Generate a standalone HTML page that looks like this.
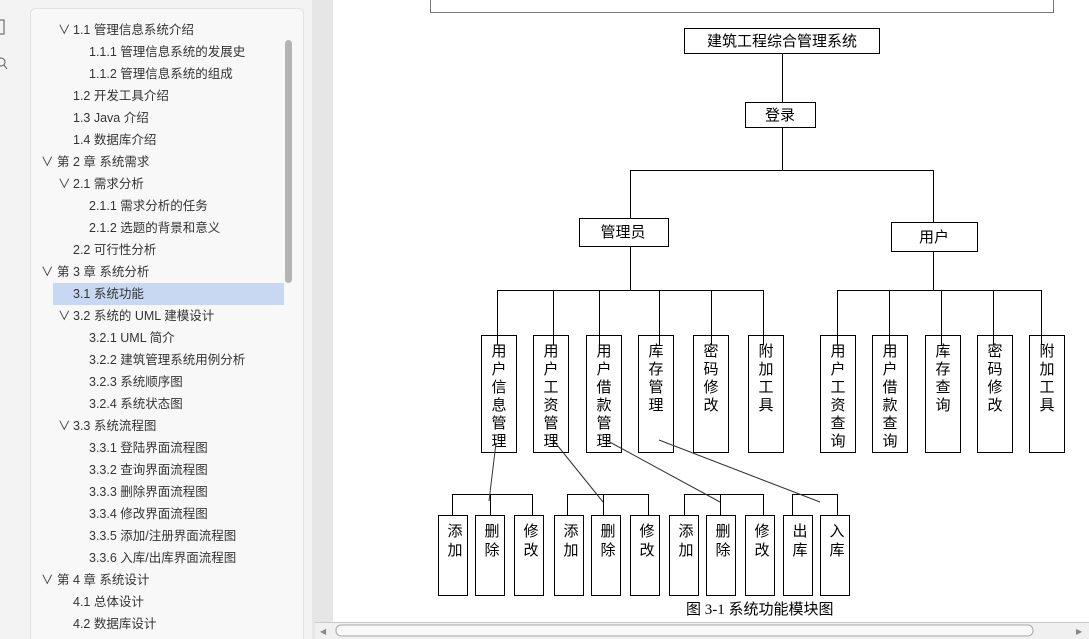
<!DOCTYPE html>
<html><head><meta charset="utf-8"><style>
html,body{margin:0;padding:0;width:1089px;height:639px;overflow:hidden;background:#eeeeee}
svg{display:block}
.s{font-family:"Liberation Sans","Noto Sans CJK SC",sans-serif;font-size:12.5px;fill:#333}
.d{font-family:"Liberation Serif","Noto Sans CJK SC",serif;font-size:15px;fill:#000}
.b{font-family:"Liberation Serif","Noto Sans CJK SC",serif;font-size:15px;fill:#000}
</style></head><body>
<svg width="1089" height="639" viewBox="0 0 1089 639" xmlns="http://www.w3.org/2000/svg">
<rect x="0" y="0" width="1089" height="639" fill="#eeeeee"/>
<rect x="0" y="0" width="22" height="639" fill="#f3f3f3"/>
<rect x="-2" y="20" width="6" height="14" fill="none" stroke="#555" stroke-width="1"/>
<circle cx="1" cy="62" r="4" fill="none" stroke="#555"/><line x1="4" y1="65" x2="7" y2="69" stroke="#555"/>
<rect x="22" y="0" width="290" height="639" fill="#f3f3f3"/>
<rect x="30.5" y="8.5" width="273" height="640" rx="5" fill="#f8f8f8" stroke="#e2e2e2"/>
<rect x="285" y="40" width="7" height="243" rx="3.5" fill="#b4b4b4"/>
<rect x="53" y="283" width="231" height="22" fill="#c9d8f2"/>
<rect x="312" y="0" width="22" height="639" fill="#e6e6e6"/>
<rect x="333" y="0" width="756" height="622" fill="#fff"/>
<g class="s">
<text x="58" y="34">∨</text><text x="73" y="34">1.1  管理信息系统介绍</text>
<text x="89" y="56">1.1.1  管理信息系统的发展史</text>
<text x="89" y="78">1.1.2  管理信息系统的组成</text>
<text x="73" y="100">1.2 开发工具介绍</text>
<text x="73" y="122">1.3 Java 介绍</text>
<text x="73" y="144">1.4  数据库介绍</text>
<text x="41" y="166">∨</text><text x="57" y="166">第 2 章   系统需求</text>
<text x="58" y="188">∨</text><text x="73" y="188">2.1  需求分析</text>
<text x="89" y="210">2.1.1  需求分析的任务</text>
<text x="89" y="232">2.1.2  选题的背景和意义</text>
<text x="73" y="254">2.2 可行性分析</text>
<text x="41" y="276">∨</text><text x="57" y="276">第 3 章   系统分析</text>
<text x="73" y="298">3.1 系统功能</text>
<text x="58" y="320">∨</text><text x="73" y="320">3.2 系统的 UML 建模设计</text>
<text x="89" y="342">3.2.1 UML 简介</text>
<text x="89" y="364">3.2.2 建筑管理系统用例分析</text>
<text x="89" y="386">3.2.3 系统顺序图</text>
<text x="89" y="408">3.2.4 系统状态图</text>
<text x="58" y="430">∨</text><text x="73" y="430">3.3 系统流程图</text>
<text x="89" y="452">3.3.1  登陆界面流程图</text>
<text x="89" y="474">3.3.2  查询界面流程图</text>
<text x="89" y="496">3.3.3  删除界面流程图</text>
<text x="89" y="518">3.3.4  修改界面流程图</text>
<text x="89" y="540">3.3.5  添加/注册界面流程图</text>
<text x="89" y="562">3.3.6  入库/出库界面流程图</text>
<text x="41" y="584">∨</text><text x="57" y="584">第 4 章   系统设计</text>
<text x="73" y="606">4.1 总体设计</text>
<text x="73" y="628">4.2 数据库设计</text>
</g>
<rect x="315" y="622" width="774" height="17" fill="#f0f0f0"/>
<line x1="315" y1="622.5" x2="1089" y2="622.5" stroke="#c8c8c8"/>
<rect x="336" y="625" width="697" height="11" rx="5" fill="#f8f8f8" stroke="#a8a8a8"/>
<text x="320" y="634" font-size="8" fill="#888">◀</text>
<text x="1076" y="634" font-size="8" fill="#888">▶</text>
<g stroke="#777" stroke-width="1" fill="none">
<polyline points="430.5,0 430.5,12.5 1053.5,12.5 1053.5,0"/>
</g>
<g stroke="#000" stroke-width="1" fill="none">
<rect x="684.5" y="28.5" width="195" height="25"/>
<rect x="745.5" y="102.5" width="70" height="25"/>
<line x1="782.5" y1="53" x2="782.5" y2="102"/>
<line x1="782.5" y1="127" x2="782.5" y2="170"/>
<polyline points="630.5,218 630.5,170.5 933.5,170.5 933.5,222"/>
<rect x="579.5" y="218.5" width="89" height="28"/>
<rect x="891.5" y="222.5" width="86" height="29"/>
<line x1="630.5" y1="246" x2="630.5" y2="290"/>
<line x1="497" y1="290.5" x2="763" y2="290.5"/>
<line x1="497.5" y1="290" x2="497.5" y2="345"/><line x1="553.5" y1="290" x2="553.5" y2="345"/>
<line x1="599.5" y1="290" x2="599.5" y2="345"/><line x1="659.5" y1="290" x2="659.5" y2="345"/>
<line x1="711.5" y1="290" x2="711.5" y2="345"/><line x1="763.5" y1="290" x2="763.5" y2="345"/>
<line x1="933.5" y1="251" x2="933.5" y2="290"/>
<line x1="837" y1="290.5" x2="1041" y2="290.5"/>
<line x1="837.5" y1="290" x2="837.5" y2="345"/><line x1="889.5" y1="290" x2="889.5" y2="345"/>
<line x1="941.5" y1="290" x2="941.5" y2="345"/><line x1="993.5" y1="290" x2="993.5" y2="345"/>
<line x1="1041.5" y1="290" x2="1041.5" y2="345"/>
<rect x="481.5" y="335.5" width="35" height="117"/><rect x="533.5" y="335.5" width="35" height="117"/>
<rect x="586.5" y="335.5" width="35" height="117"/><rect x="638.5" y="335.5" width="35" height="117"/>
<rect x="693.5" y="335.5" width="35" height="117"/><rect x="748.5" y="335.5" width="35" height="117"/>
<rect x="820.5" y="335.5" width="35" height="117"/><rect x="872.5" y="335.5" width="35" height="117"/>
<rect x="925.5" y="335.5" width="35" height="117"/><rect x="977.5" y="335.5" width="35" height="117"/>
<rect x="1029.5" y="335.5" width="35" height="117"/>
<polyline points="452.5,515 452.5,494.5 532.5,494.5 532.5,515"/><line x1="490.5" y1="494" x2="490.5" y2="515"/>
<polyline points="567.5,515 567.5,494.5 648.5,494.5 648.5,515"/><line x1="603.5" y1="494" x2="603.5" y2="515"/>
<polyline points="684.5,515 684.5,494.5 763.5,494.5 763.5,515"/><line x1="720.5" y1="494" x2="720.5" y2="515"/>
<polyline points="792.5,515 792.5,494.5 837.5,494.5 837.5,515"/>
<rect x="438.5" y="515.5" width="29" height="80"/><rect x="475.5" y="515.5" width="29" height="80"/>
<rect x="514.5" y="515.5" width="29" height="80"/><rect x="554.5" y="515.5" width="29" height="80"/>
<rect x="591.5" y="515.5" width="29" height="80"/><rect x="630.5" y="515.5" width="29" height="80"/>
<rect x="669.5" y="515.5" width="29" height="80"/><rect x="706.5" y="515.5" width="29" height="80"/>
<rect x="745.5" y="515.5" width="29" height="80"/><rect x="783.5" y="515.5" width="29" height="80"/>
<rect x="820.5" y="515.5" width="29" height="80"/>
<line x1="496" y1="443" x2="489" y2="501" stroke="#333"/>
<line x1="553" y1="440" x2="603" y2="502" stroke="#333"/>
<line x1="606" y1="440" x2="720" y2="502" stroke="#333"/>
<line x1="659" y1="440" x2="820" y2="502" stroke="#333"/>
</g>
<g class="d" text-anchor="middle">
<text x="782" y="46">建筑工程综合管理系统</text>
<text x="780" y="120">登录</text>
<text x="623" y="237">管理员</text>
<text x="934" y="242">用户</text>
</g>
<g class="b" text-anchor="middle">
<text x="499" y="356">用<tspan x="499" dy="18">户</tspan><tspan x="499" dy="18">信</tspan><tspan x="499" dy="18">息</tspan><tspan x="499" dy="18">管</tspan><tspan x="499" dy="18">理</tspan></text>
<text x="551" y="356">用<tspan x="551" dy="18">户</tspan><tspan x="551" dy="18">工</tspan><tspan x="551" dy="18">资</tspan><tspan x="551" dy="18">管</tspan><tspan x="551" dy="18">理</tspan></text>
<text x="604" y="356">用<tspan x="604" dy="18">户</tspan><tspan x="604" dy="18">借</tspan><tspan x="604" dy="18">款</tspan><tspan x="604" dy="18">管</tspan><tspan x="604" dy="18">理</tspan></text>
<text x="656" y="356">库<tspan x="656" dy="18">存</tspan><tspan x="656" dy="18">管</tspan><tspan x="656" dy="18">理</tspan></text>
<text x="711" y="356">密<tspan x="711" dy="18">码</tspan><tspan x="711" dy="18">修</tspan><tspan x="711" dy="18">改</tspan></text>
<text x="766" y="356">附<tspan x="766" dy="18">加</tspan><tspan x="766" dy="18">工</tspan><tspan x="766" dy="18">具</tspan></text>
<text x="838" y="356">用<tspan x="838" dy="18">户</tspan><tspan x="838" dy="18">工</tspan><tspan x="838" dy="18">资</tspan><tspan x="838" dy="18">查</tspan><tspan x="838" dy="18">询</tspan></text>
<text x="890" y="356">用<tspan x="890" dy="18">户</tspan><tspan x="890" dy="18">借</tspan><tspan x="890" dy="18">款</tspan><tspan x="890" dy="18">查</tspan><tspan x="890" dy="18">询</tspan></text>
<text x="943" y="356">库<tspan x="943" dy="18">存</tspan><tspan x="943" dy="18">查</tspan><tspan x="943" dy="18">询</tspan></text>
<text x="995" y="356">密<tspan x="995" dy="18">码</tspan><tspan x="995" dy="18">修</tspan><tspan x="995" dy="18">改</tspan></text>
<text x="1047" y="356">附<tspan x="1047" dy="18">加</tspan><tspan x="1047" dy="18">工</tspan><tspan x="1047" dy="18">具</tspan></text>
<text x="455" y="536">添<tspan x="455" dy="19">加</tspan></text>
<text x="492" y="536">删<tspan x="492" dy="19">除</tspan></text>
<text x="531" y="536">修<tspan x="531" dy="19">改</tspan></text>
<text x="571" y="536">添<tspan x="571" dy="19">加</tspan></text>
<text x="608" y="536">删<tspan x="608" dy="19">除</tspan></text>
<text x="647" y="536">修<tspan x="647" dy="19">改</tspan></text>
<text x="686" y="536">添<tspan x="686" dy="19">加</tspan></text>
<text x="723" y="536">删<tspan x="723" dy="19">除</tspan></text>
<text x="762" y="536">修<tspan x="762" dy="19">改</tspan></text>
<text x="800" y="536">出<tspan x="800" dy="19">库</tspan></text>
<text x="837" y="536">入<tspan x="837" dy="19">库</tspan></text>
</g>
<text x="686" y="614" class="d" font-size="14">图 3-1  系统功能模块图</text>
</svg>
</body></html>
